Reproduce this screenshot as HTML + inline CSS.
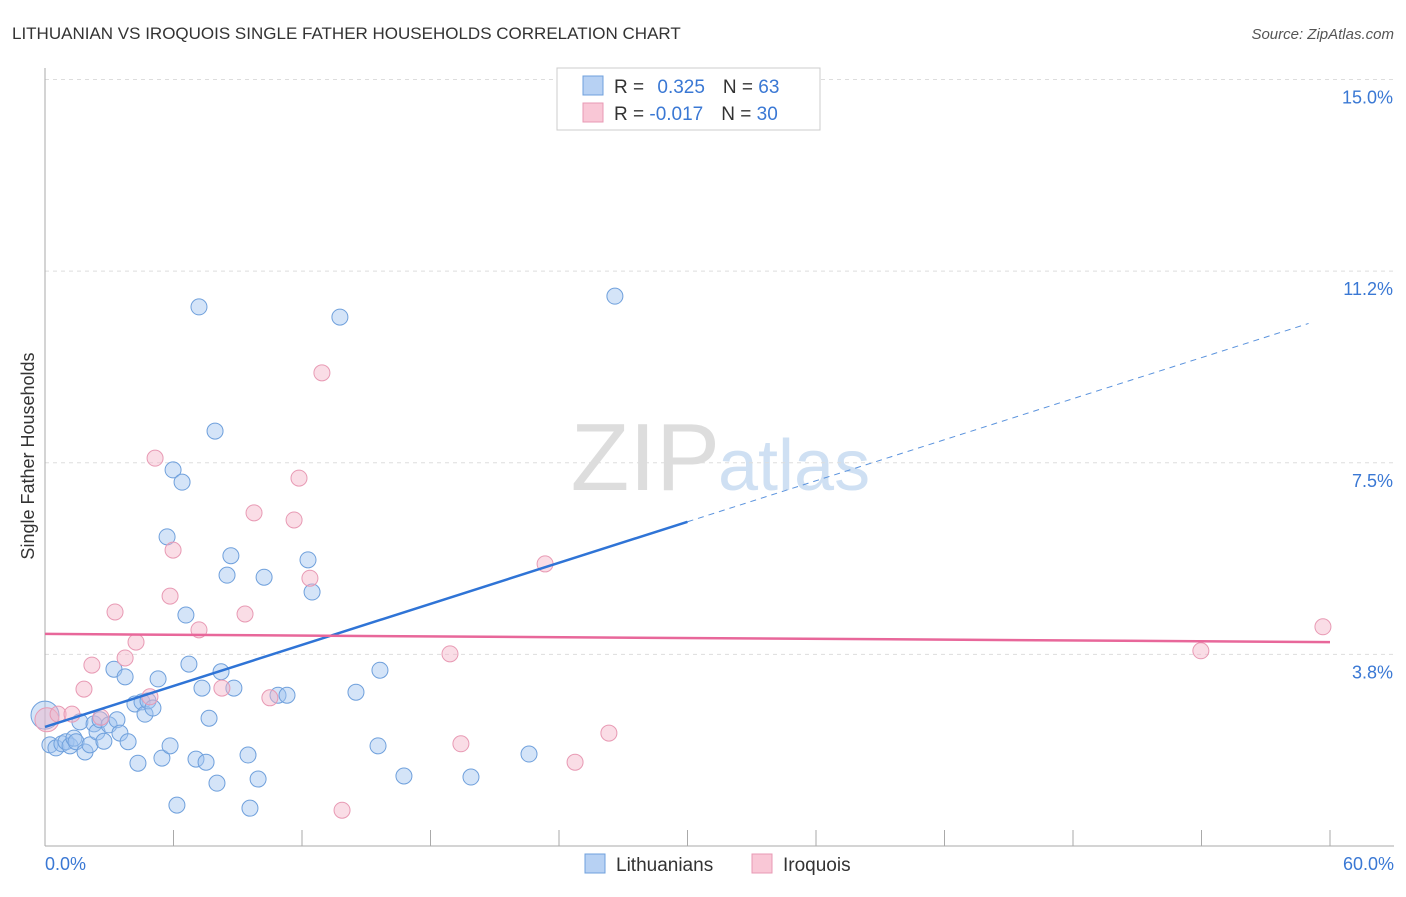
<!DOCTYPE html>
<html><head><meta charset="utf-8"><style>
body{margin:0;background:#fff;font-family:"Liberation Sans",sans-serif;}
svg text{font-family:"Liberation Sans",sans-serif;}
</style></head><body>
<svg id="chart" width="1406" height="892">
<text x="12" y="39" font-size="17" fill="#333">LITHUANIAN VS IROQUOIS SINGLE FATHER HOUSEHOLDS CORRELATION CHART</text>
<text x="1394" y="39" font-size="15" fill="#555" text-anchor="end" font-style="italic">Source: ZipAtlas.com</text>
<text x="720" y="490" font-size="96" fill="#ddd" text-anchor="end" font-family="Liberation Serif">ZIP</text>
<text x="718" y="490" font-size="72" fill="#cfe0f3">atlas</text>
<g id="grid"></g>
<g id="axes"></g>
<g id="marks"></g>
<text transform="translate(34,456) rotate(-90)" font-size="18" fill="#333" text-anchor="middle">Single Father Households</text>
<g>
<rect x="557" y="68" width="263" height="62" fill="#fff" stroke="#ccc"/>
<rect x="583" y="76" width="20" height="19" fill="#b7d1f3" stroke="#6fa0dc"/>
<rect x="583" y="103" width="20" height="19" fill="#f9c7d6" stroke="#e89ab4"/>
<text x="614" y="93" font-size="19" fill="#333">R = <tspan fill="#3a78d4" dx="8">0.325</tspan><tspan dx="18" fill="#333">N = </tspan><tspan fill="#3a78d4">63</tspan></text>
<text x="614" y="120" font-size="19" fill="#333">R = <tspan fill="#3a78d4">-0.017</tspan><tspan dx="18" fill="#333">N = </tspan><tspan fill="#3a78d4">30</tspan></text>
</g>
<g>
<rect x="585" y="854" width="20" height="19" fill="#b7d1f3" stroke="#6fa0dc"/>
<text x="616" y="871" font-size="19" fill="#333">Lithuanians</text>
<rect x="752" y="854" width="20" height="19" fill="#f9c7d6" stroke="#e89ab4"/>
<text x="783" y="871" font-size="19" fill="#333">Iroquois</text>
</g>
</svg>
<script>
const yTicks=[3.75,7.5,11.25,15];
const yTickLabels=["3.8%","7.5%","11.2%","15.0%"];
const xTickLabels=["0.0%","60.0%"];
const blueX=[0,0.23,0.51,0.79,0.98,1.17,1.35,1.45,1.63,1.87,2.1,2.29,2.43,2.57,2.75,2.99,3.22,3.36,3.5,3.74,3.88,4.2,4.34,4.53,4.67,4.81,5.04,5.28,5.46,5.7,5.84,5.98,6.16,6.4,6.58,6.72,7.05,7.19,7.33,7.52,7.66,7.94,8.03,8.22,8.5,8.68,8.82,9.48,9.57,9.95,10.23,10.88,11.3,12.28,12.47,13.77,14.52,15.55,15.64,16.76,19.89,22.6,26.61];
const blueY=[2.56,1.98,1.92,2.0,2.04,1.96,2.11,2.04,2.43,1.84,1.98,2.39,2.23,2.47,2.05,2.37,3.46,2.47,2.21,3.31,2.04,2.78,1.62,2.82,2.58,2.84,2.7,3.27,1.72,6.05,1.96,7.36,0.8,7.12,4.52,3.56,1.7,10.55,3.09,1.64,2.5,8.12,1.23,3.41,5.3,5.68,3.09,1.78,0.74,1.31,5.26,2.95,2.95,5.6,4.97,10.35,3.01,1.96,3.44,1.37,1.35,1.8,10.76];
const pinkX=[0.09,0.61,1.26,1.82,2.19,2.61,3.27,3.74,4.25,4.9,5.14,5.84,5.98,7.19,8.26,9.34,9.76,10.5,11.63,11.86,12.37,12.93,13.87,18.91,19.42,23.35,24.75,26.33,53.97,59.67];
const pinkY=[2.47,2.58,2.58,3.07,3.54,2.52,4.58,3.68,3.99,2.92,7.59,4.89,5.79,4.23,3.09,4.54,6.52,2.9,6.38,7.2,5.24,9.26,0.7,3.76,2.0,5.52,1.64,2.21,3.82,4.29];
const blueTrend=[2.33,10.36];
const pinkTrend=[4.15,3.99];
const X0=45,X1=1330,Y0=846,PPY=51.1;
const sx=v=>X0+(X1-X0)*v/60, sy=v=>Y0-v*PPY;
const NS="http://www.w3.org/2000/svg";
function mk(t,a,p){const e=document.createElementNS(NS,t);for(const k in a)e.setAttribute(k,a[k]);p.appendChild(e);return e;}
const grid=document.getElementById('grid'),axes=document.getElementById('axes'),marks=document.getElementById('marks');
yTicks.forEach((t,i)=>{
 const l=mk('line',{x1:X0,x2:1394,y1:sy(t),y2:sy(t),stroke:'#ddd','stroke-dasharray':'4,4'},grid);
 
 
 const tx=mk('text',{x:1393,y:sy(t)+24,'font-size':18,fill:'#3a78d4','text-anchor':'end'},grid);
 tx.textContent=yTickLabels[i];
 
 
});
const ax=mk('line',{x1:X0,x2:X0,y1:68,y2:Y0,stroke:'#aaa'},axes);


const bx=mk('line',{x1:X0,x2:1394,y1:Y0,y2:Y0,stroke:'#aaa'},axes);


for(let v=0;v<=60;v+=6){const t=mk('line',{x1:sx(v),x2:sx(v),y1:Y0-16,y2:Y0,stroke:'#aaa'},axes);
 
 }
[[0,'start',X0],[1,'end',1394]].forEach(([i,a,x])=>{const t=mk('text',{x:x,y:870,'font-size':18,fill:'#3a78d4','text-anchor':a},axes);t.textContent=xTickLabels[i];
 
 });
blueX.forEach((x,i)=>{const c=mk('circle',{cx:sx(x),cy:sy(blueY[i]),r:i==0?14:8,fill:'rgba(160,196,240,0.45)',stroke:'#6fa0dc','stroke-width':1},marks);
 
 });
pinkX.forEach((x,i)=>{const c=mk('circle',{cx:sx(x),cy:sy(pinkY[i]),r:i==0?12:8,fill:'rgba(245,180,200,0.45)',stroke:'#e89ab4','stroke-width':1},marks);
 
 });
const bAt=v=>blueTrend[0]+(blueTrend[1]-blueTrend[0])*v/60;
const bl=mk('line',{x1:sx(0),y1:sy(bAt(0)),x2:sx(30),y2:sy(bAt(30)),stroke:'#2f74d6','stroke-width':2.5},marks);


const bd=mk('line',{x1:sx(30),y1:sy(bAt(30)),x2:sx(59),y2:sy(bAt(59)),stroke:'#5b93dd','stroke-width':1,'stroke-dasharray':'6,5'},marks);


const pl=mk('line',{x1:sx(0),y1:sy(pinkTrend[0]),x2:sx(60),y2:sy(pinkTrend[1]),stroke:'#e8679a','stroke-width':2.5},marks);


</script>
</body></html>
